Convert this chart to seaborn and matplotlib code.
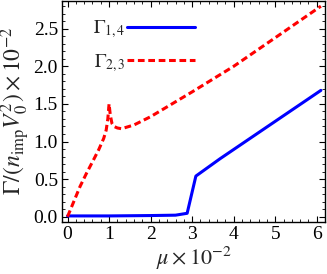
import numpy as np
import pandas as pd
import matplotlib
matplotlib.use("Agg")
import matplotlib.pyplot as plt
from matplotlib.ticker import MultipleLocator, FormatStrFormatter
import seaborn as sns

# data
mu_14 = [0.0, 1.0, 2.0, 2.6, 2.88, 3.09, 3.67, 6.1]
gamma_14 = [0.01, 0.01, 0.015, 0.02, 0.045, 0.54, 0.77, 1.68]

mu_23 = [0.0, 0.15, 0.3, 0.45, 0.62, 0.75, 0.87, 0.93, 0.97, 1.0,
         1.03, 1.07, 1.12, 1.2, 1.3, 1.6, 2.0, 3.0, 4.0, 5.0, 6.1]
gamma_23 = [0.0, 0.2, 0.40, 0.57, 0.75, 0.89, 1.04, 1.15, 1.3, 1.5,
            1.35, 1.24, 1.2, 1.18, 1.17, 1.22, 1.33, 1.66, 2.0, 2.38, 2.80]

sns.set_theme(style="ticks")
plt.rcParams['font.family'] = ['Liberation Serif', 'DejaVu Serif']
plt.rcParams['mathtext.fontset'] = 'stix'

df14 = pd.DataFrame({"mu": mu_14, "g": gamma_14})
df23 = pd.DataFrame({"mu": mu_23, "g": gamma_23})

fig = plt.figure(figsize=(3.27, 2.74), dpi=100)
ax = fig.add_axes([0.19, 0.19, 0.804, 0.808])

sns.lineplot(data=df14, x="mu", y="g", ax=ax, color="#0000ff", lw=2.2,
             label=r"$\Gamma_{1,4}$", sort=False)
sns.lineplot(data=df23, x="mu", y="g", ax=ax, color="#ff0000", lw=2.2,
             label=r"$\Gamma_{2,3}$", sort=False)
ax.lines[1].set_dashes([2.2, 1.2])

ax.set_xlim(-0.13, 6.2)
ax.set_ylim(-0.07, 2.875)
ax.xaxis.set_major_locator(MultipleLocator(1))
ax.xaxis.set_minor_locator(MultipleLocator(0.2))
ax.yaxis.set_major_locator(MultipleLocator(0.5))
ax.yaxis.set_minor_locator(MultipleLocator(0.1))
ax.yaxis.set_major_formatter(FormatStrFormatter('%.1f'))
ax.xaxis.set_major_formatter(FormatStrFormatter('%d'))
ax.tick_params(which='both', direction='in', top=True, right=True, colors='black',
               labelsize=14, pad=3)
ax.tick_params(which='major', length=4, width=0.8)
ax.tick_params(which='minor', length=2, width=0.6)
for s in ax.spines.values():
    s.set_color('black')
    s.set_linewidth(1.0)

ax.set_xlabel(r"$\mu\times10^{-2}$", fontsize=16, labelpad=1)
ax.set_ylabel(r"$\Gamma/(n_{\rm imp}V_0^2)\times10^{-2}$", fontsize=17, labelpad=1)

leg = ax.legend(loc='upper left', frameon=False, markerfirst=False, fontsize=14,
                handlelength=3.5, handletextpad=0.1, borderaxespad=0.3,
                labelspacing=0.6, bbox_to_anchor=(0.065, 0.98))
for h in leg.get_lines():
    h.set_linewidth(2.2)

fig.savefig("out.png", dpi=100)
